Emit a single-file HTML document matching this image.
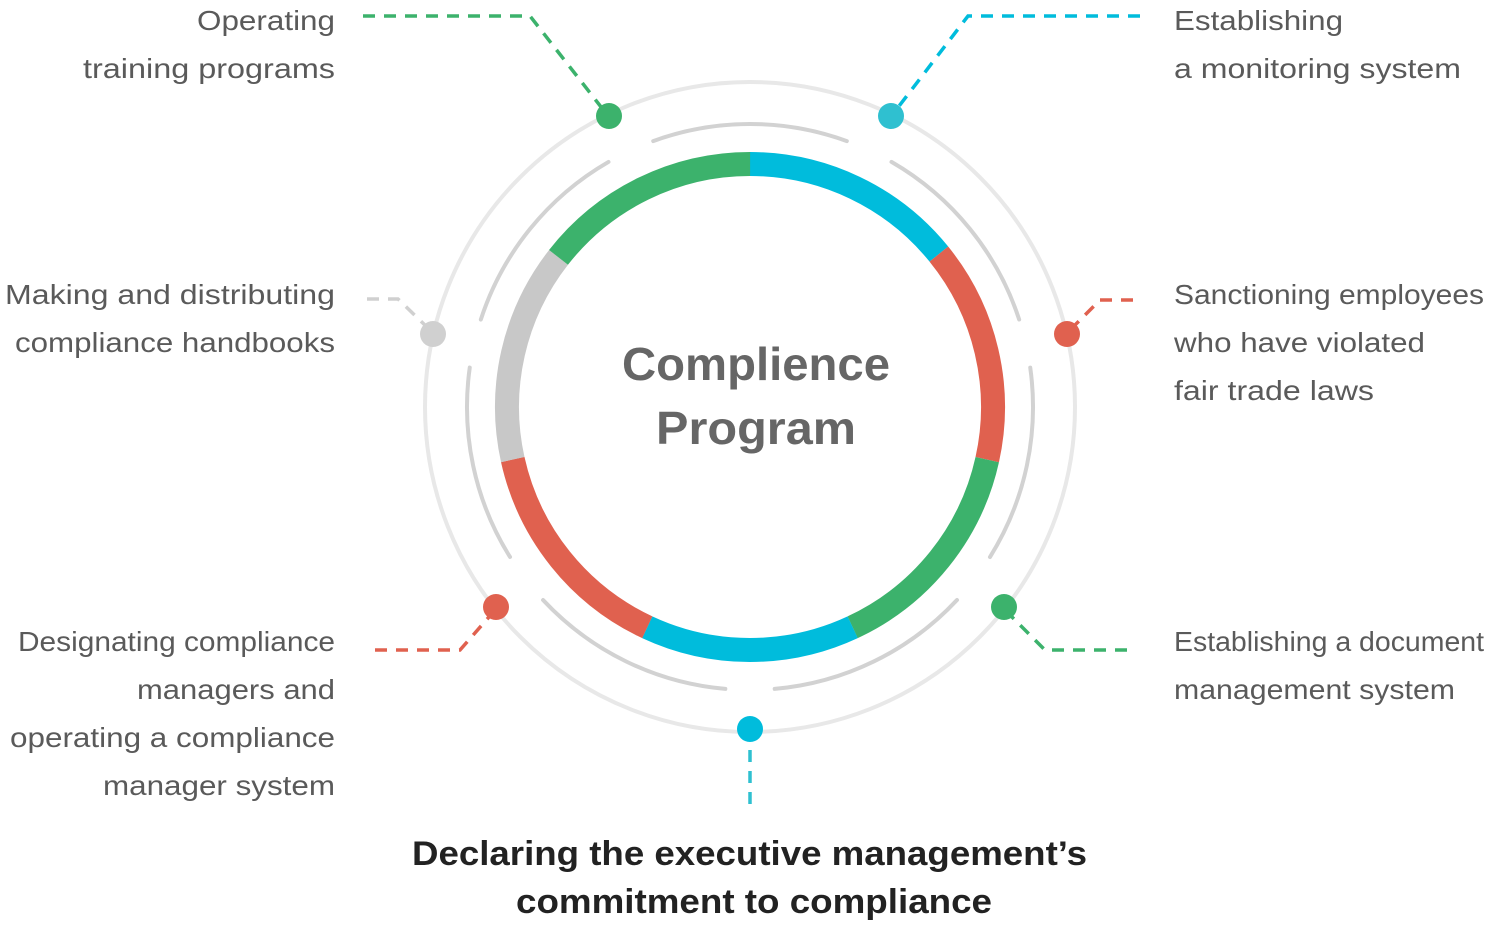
<!DOCTYPE html>
<html><head><meta charset="utf-8"><style>
html,body{margin:0;padding:0;background:#fff}
svg{display:block}
.t{font-family:"Liberation Sans",sans-serif;font-size:28px;fill:#5a5a5a}
</style></head><body>
<svg width="1500" height="933" viewBox="0 0 1500 933" xmlns="http://www.w3.org/2000/svg">
<circle cx="750" cy="407" r="325" fill="none" stroke="#e8e8e8" stroke-width="4"/>
<g fill="none" stroke="#d2d2d2" stroke-width="4" stroke-linecap="round">
<circle cx="750" cy="407" r="283" stroke-dasharray="197.6 2000" transform="rotate(-110 750 407)"/>
<circle cx="750" cy="407" r="283" stroke-dasharray="207.4 2000" transform="rotate(-60 750 407)"/>
<circle cx="750" cy="407" r="283" stroke-dasharray="197.6 2000" transform="rotate(-8 750 407)"/>
<circle cx="750" cy="407" r="283" stroke-dasharray="207.4 2000" transform="rotate(43 750 407)"/>
<circle cx="750" cy="407" r="283" stroke-dasharray="207.4 2000" transform="rotate(95 750 407)"/>
<circle cx="750" cy="407" r="283" stroke-dasharray="197.6 2000" transform="rotate(148 750 407)"/>
<circle cx="750" cy="407" r="283" stroke-dasharray="207.4 2000" transform="rotate(198 750 407)"/>
</g>
<g fill="none" stroke-width="24">
<circle cx="750" cy="407" r="243" stroke="#00bcdc" stroke-dasharray="216.3 2000" transform="rotate(-90 750 407)"/>
<circle cx="750" cy="407" r="243" stroke="#e0614f" stroke-dasharray="218.4 2000" transform="rotate(-39 750 407)"/>
<circle cx="750" cy="407" r="243" stroke="#3cb26c" stroke-dasharray="222.7 2000" transform="rotate(12.5 750 407)"/>
<circle cx="750" cy="407" r="243" stroke="#00bcdc" stroke-dasharray="212.1 2000" transform="rotate(65 750 407)"/>
<circle cx="750" cy="407" r="243" stroke="#e0614f" stroke-dasharray="222.7 2000" transform="rotate(115 750 407)"/>
<circle cx="750" cy="407" r="243" stroke="#c8c8c8" stroke-dasharray="214.2 2000" transform="rotate(167.5 750 407)"/>
<circle cx="750" cy="407" r="243" stroke="#3cb26c" stroke-dasharray="220.6 2000" transform="rotate(218 750 407)"/>
</g>
<g fill="none" stroke-width="3.5" stroke-dasharray="12 9">
<polyline points="363,16 530,16 605,112" stroke="#3cb26c"/>
<polyline points="1140,16 968,16 893,114" stroke="#00bcdc"/>
<polyline points="1133,300 1100,300 1068,332" stroke="#e0614f"/>
<polyline points="367,299 398,299 432,332" stroke="#d0d0d0"/>
<polyline points="375,650 460,650 496,609" stroke="#e0614f"/>
<polyline points="1127,650 1045,650 1004,609" stroke="#3cb26c"/>
<polyline points="750,729 750,810" stroke="#2fc0d0"/>
</g>
<circle cx="609" cy="116" r="13" fill="#3cb26c"/>
<circle cx="891" cy="116" r="13" fill="#2fc0d0"/>
<circle cx="1067" cy="334" r="13" fill="#e0614f"/>
<circle cx="433" cy="334" r="13" fill="#d0d0d0"/>
<circle cx="496" cy="607" r="13" fill="#e0614f"/>
<circle cx="1004" cy="607" r="13" fill="#3cb26c"/>
<circle cx="750" cy="729" r="13" fill="#00bcdc"/>
<g font-family="Liberation Sans, sans-serif" font-weight="bold" font-size="46" fill="#666" lengthAdjust="spacingAndGlyphs">
<text x="622" y="380" textLength="268" lengthAdjust="spacingAndGlyphs">Complience</text>
<text x="656" y="444" textLength="200" lengthAdjust="spacingAndGlyphs">Program</text>
</g>
<g class="t">
<text x="197" y="30" textLength="138" lengthAdjust="spacingAndGlyphs">Operating</text>
<text x="83" y="78" textLength="252" lengthAdjust="spacingAndGlyphs">training programs</text>
<text x="5" y="304" textLength="330" lengthAdjust="spacingAndGlyphs">Making and distributing</text>
<text x="15" y="352" textLength="320" lengthAdjust="spacingAndGlyphs">compliance handbooks</text>
<text x="18" y="651" textLength="317" lengthAdjust="spacingAndGlyphs">Designating compliance</text>
<text x="137" y="699" textLength="198" lengthAdjust="spacingAndGlyphs">managers and</text>
<text x="10" y="747" textLength="325" lengthAdjust="spacingAndGlyphs">operating a compliance</text>
<text x="103" y="795" textLength="232" lengthAdjust="spacingAndGlyphs">manager system</text>
<text x="1174" y="30" textLength="169" lengthAdjust="spacingAndGlyphs">Establishing</text>
<text x="1174" y="78" textLength="287" lengthAdjust="spacingAndGlyphs">a monitoring system</text>
<text x="1174" y="304" textLength="310" lengthAdjust="spacingAndGlyphs">Sanctioning employees</text>
<text x="1174" y="352" textLength="251" lengthAdjust="spacingAndGlyphs">who have violated</text>
<text x="1174" y="400" textLength="200" lengthAdjust="spacingAndGlyphs">fair trade laws</text>
<text x="1174" y="651" textLength="310" lengthAdjust="spacingAndGlyphs">Establishing a document</text>
<text x="1174" y="699" textLength="281" lengthAdjust="spacingAndGlyphs">management system</text>
</g>
<g font-family="Liberation Sans, sans-serif" font-weight="bold" font-size="34" fill="#222">
<text x="412" y="865" textLength="675" lengthAdjust="spacingAndGlyphs">Declaring the executive management’s</text>
<text x="516" y="913" textLength="476" lengthAdjust="spacingAndGlyphs">commitment to compliance</text>
</g>
</svg>
</body></html>
